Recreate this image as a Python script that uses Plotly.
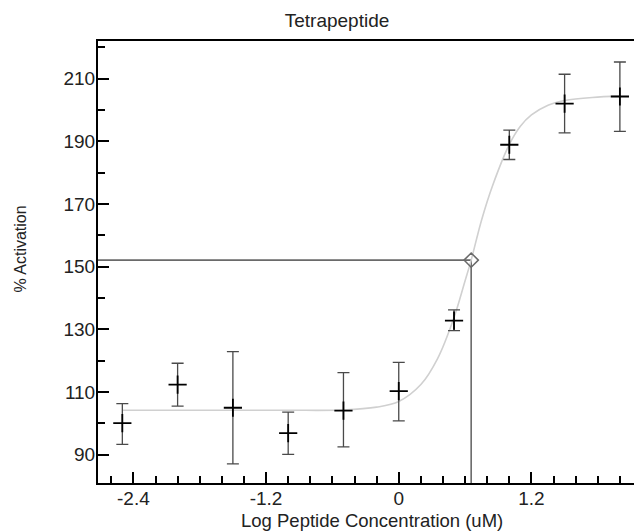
import plotly.graph_objects as go

# Measured points (log concentration, % activation) with error-bar bounds
log_conc = [-2.5, -2.0, -1.5, -1.0, -0.5, 0.0, 0.5, 1.0, 1.5, 2.0]
activation = [100.1, 112.4, 105.0, 96.9, 104.1, 110.3, 132.8, 188.9, 202.0, 204.3]
err_upper = [106.3, 119.2, 122.9, 103.6, 116.2, 119.5, 136.2, 193.6, 211.4, 215.3]
err_lower = [93.3, 105.5, 87.1, 90.1, 92.5, 100.8, 129.6, 184.2, 192.7, 193.2]

# Fitted curve
curve_x = [-2.5, -2.0, -1.5, -1.0, -0.5, -0.2, 0.0, 0.2, 0.35, 0.5, 0.6, 0.655,
           0.75, 0.85, 1.0, 1.1, 1.2, 1.35, 1.5, 1.75, 2.0]
curve_y = [104.2, 104.2, 104.2, 104.2, 104.3, 105.2, 107.0, 112.4, 120.6, 133.8, 145.5, 152.1,
           165.0, 176.0, 189.0, 194.8, 198.4, 201.5, 203.0, 204.0, 204.4]

# EC50 marker
ec50_x = 0.655
ec50_y = 152.1

x_range = [-2.72, 2.2]
y_range = [81, 222]

x_tickvals = [-2.4, -1.2, 0, 1.2]
x_ticktext = ["-2.4", "-1.2", "0", "1.2"]
y_tickvals = [90, 110, 130, 150, 170, 190, 210]
y_ticktext = ["90", "110", "130", "150", "170", "190", "210"]

font_family = "Liberation Sans, Arial, sans-serif"
text_color = "#222222"

fig = go.Figure()

# EC50 guide lines
fig.add_trace(go.Scatter(
    x=[x_range[0], ec50_x, ec50_x], y=[ec50_y, ec50_y, y_range[0]],
    mode="lines", line=dict(color="#6a6a6a", width=1.6),
    hoverinfo="skip", showlegend=False))

# Fitted curve
fig.add_trace(go.Scatter(
    x=curve_x, y=curve_y, mode="lines", line=dict(color="#d0d0d0", width=1.6, shape="spline"),
    showlegend=False))

# EC50 diamond
fig.add_trace(go.Scatter(
    x=[ec50_x], y=[ec50_y], mode="markers",
    marker=dict(symbol="diamond-open", size=11, color="#6a6a6a", line=dict(width=1.5)),
    showlegend=False))

# Data points with error bars
fig.add_trace(go.Scatter(
    x=log_conc, y=activation, mode="markers",
    marker=dict(symbol="cross-thin", size=13, color="black", line=dict(width=1.8, color="black")),
    error_y=dict(type="data", symmetric=False,
                 array=[u - v for u, v in zip(err_upper, activation)],
                 arrayminus=[v - l for v, l in zip(activation, err_lower)],
                 color="#4a4a4a", thickness=1.3, width=6),
    showlegend=False))

# The page body adds an 8 px offset, so margins are set to compensate
fig.update_layout(
    width=634, height=523,
    margin=dict(l=90, r=0, t=33, b=48, autoexpand=False),
    paper_bgcolor="white", plot_bgcolor="white",
    font=dict(family=font_family, size=19, color=text_color),
    title=dict(text="Tetrapeptide", x=0.519, xanchor="center", y=0.977, yanchor="middle",
               font=dict(size=19, family=font_family, color=text_color)),
    showlegend=False,
)

fig.update_xaxes(
    range=x_range, showgrid=False, zeroline=False, automargin=False,
    showline=True, linecolor="black", linewidth=2, mirror=True,
    ticks="inside", ticklen=11, tickwidth=1.5, tickcolor="black",
    tickmode="array", tickvals=x_tickvals, ticktext=x_ticktext,
    ticklabelstandoff=-3,
    minor=dict(ticks="inside", ticklen=7, tickwidth=1.5, tickcolor="black", dtick=0.2, tick0=0, showgrid=False),
)

fig.update_yaxes(
    range=y_range, showgrid=False, zeroline=False, automargin=False,
    showline=True, linecolor="black", linewidth=2,
    ticks="inside", ticklen=11, tickwidth=1.5, tickcolor="black",
    tickmode="array", tickvals=y_tickvals, ticktext=y_ticktext,
    ticklabelstandoff=-3,
    minor=dict(ticks="inside", ticklen=7, tickwidth=1.5, tickcolor="black", dtick=10, tick0=0, showgrid=False),
)

fig.add_annotation(
    text="% Activation", textangle=-90, xref="paper", yref="paper",
    x=-0.142, y=0.53, xanchor="center", yanchor="middle", showarrow=False,
    font=dict(size=16, family=font_family, color=text_color))

fig.add_annotation(
    text="Log Peptide Concentration (uM)", xref="paper", yref="paper",
    x=0.504, y=-0.0855, xanchor="center", yanchor="middle", showarrow=False,
    font=dict(size=18.5, family=font_family, color=text_color))

fig.write_html("out.html")
